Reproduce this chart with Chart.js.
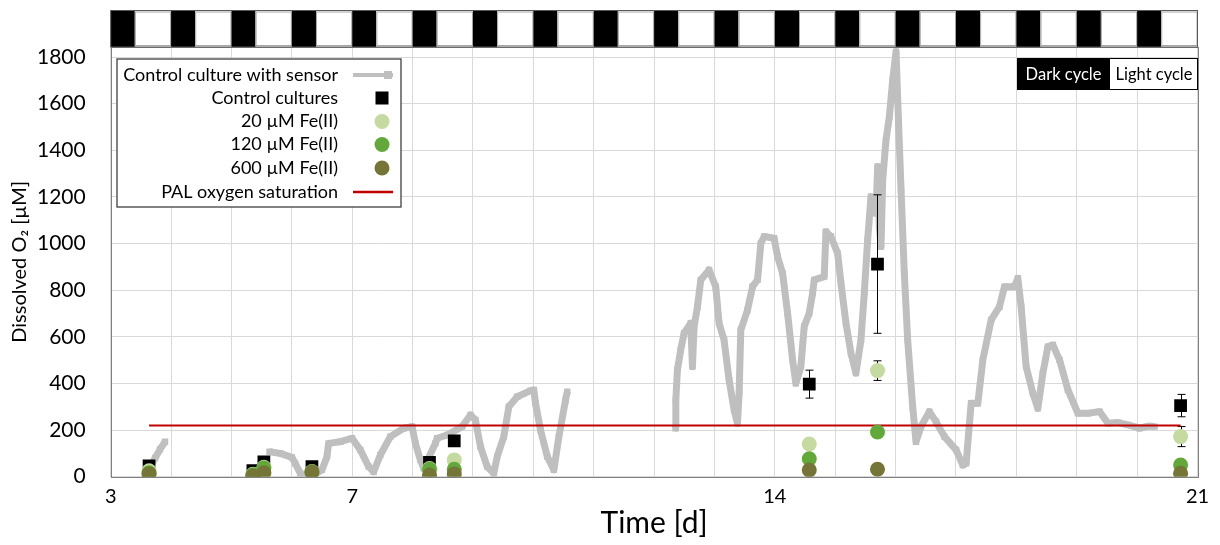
<!DOCTYPE html>
<html>
<head>
<meta charset="utf-8">
<script src="https://cdn.jsdelivr.net/npm/chart.js@4.4.1/dist/chart.umd.min.js"></script>
<style>
  html, body { margin: 0; padding: 0; background: #fff; }
</style>
</head>
<body>
<canvas id="chart" width="1220" height="545"></canvas>
<script>
// sensor trace (days / uM), null = no sensor data
var sensorDays = [3.652, 3.735, 3.818, 3.90, 4.8,
  5.630, 5.808, 6.002, 6.056, 6.139, 6.222, 6.360, 6.499, 6.582, 6.609, 6.803, 6.997, 7.134, 7.272, 7.355,
  7.466, 7.632, 7.852, 7.992, 8.046, 8.129, 8.184, 8.378, 8.406, 8.572, 8.821, 8.959, 9.041, 9.124, 9.235,
  9.345, 9.401, 9.511, 9.594, 9.733, 9.954, 10.008, 10.036, 10.119, 10.231, 10.340, 10.423, 10.534, 10.562, 11.5,
  12.355, 12.36, 12.386, 12.441, 12.496, 12.607, 12.635, 12.662, 12.718, 12.773, 12.910, 13.021, 13.076, 13.159,
  13.242, 13.325, 13.381, 13.408, 13.436, 13.547, 13.630, 13.713, 13.768, 13.823, 13.988, 14.045, 14.128, 14.211,
  14.294, 14.348, 14.431, 14.486, 14.569, 14.625, 14.652, 14.818, 14.846, 14.929, 15.040, 15.095, 15.178, 15.261,
  15.343, 15.426, 15.481, 15.537, 15.592, 15.675, 15.703, 15.730, 15.758, 15.786, 15.841, 15.896, 15.952, 16.007,
  16.035, 16.090, 16.144, 16.200, 16.283, 16.338, 16.421, 16.559, 16.670, 16.808, 17.002, 17.113, 17.168, 17.251,
  17.362, 17.445, 17.582, 17.720, 17.803, 17.968, 18.025, 18.079, 18.162, 18.273, 18.356, 18.439, 18.522, 18.605,
  18.715, 18.854, 19.020, 19.186, 19.378, 19.517, 19.683, 19.849, 20.041, 20.180, 20.290];
var sensorO2 = [40, 80, 118, 150, null,
  107, 100, 83, 57, 15, 0, 7, 29, 86, 143, 150, 165, 115, 43, 21,
  93, 172, 208, 215, 143, 72, 36, 143, 165, 179, 215, 265, 243, 129, 43,
  15, 86, 172, 300, 343, 369, 372, 315, 200, 86, 29, 172, 329, 365, null,
  208, 329, 458, 544, 615, 658, 472, 644, 729, 844, 887, 815, 658, 586,
  415, 286, 229, 358, 629, 715, 815, 844, 1001, 1030, 1023, 944, 873, 701,
  501, 401, 472, 644, 701, 787, 844, 858, 1051, 1030, 958, 830, 658, 529,
  444, 586, 787, 1015, 1201, 1130, 1330, 1072, 987, 1273, 1444, 1544, 1702, 1823,
  1616, 1230, 873, 586, 300, 150, 215, 279, 236, 172, 115, 50, 57, 315,
  315, 501, 672, 729, 815, 815, 851, 729, 472, 358, 293, 444, 558, 565,
  501, 372, 272, 272, 279, 229, 232, 222, 208, 217, 215];

// discrete samples
var sampleDays = [3.635, 5.355, 5.537, 6.333, 8.28, 8.69, 14.57, 15.70, 20.72];
var ctrl       = [47, 26, 64, 43, 62, 154, 397, 912, 305];
var ctrlErr    = [0, 0, 0, 0, 0, 0, 60, 297, 48];
var fe20       = [25, 10, 40, 22, 35, 72, 140, 455, 172];
var fe20Err    = [0, 0, 0, 0, 0, 0, 0, 42, 43];
var fe120      = [17, 8, 37, 21, 32, 32, 77, 192, 50];
var fe600      = [12, 3, 17, 20, 7, 12, 29, 32, 15];

var palLevel = 220;
var palDays = [3.635, 20.72];

var xLabels = [3, 7, 14, 21];
var yTicks = [0, 200, 400, 600, 800, 1000, 1200, 1400, 1600, 1800];
var cycleDays = [3, 4, 5, 6, 7, 8, 9, 10, 11, 12, 13, 14, 15, 16, 17, 18, 19, 20];
var darkFrac = 0.4;

var FONT = "Lato, 'DejaVu Sans', sans-serif";

function pts(xs, ys) {
  return xs.map(function (x, i) { return { x: x, y: ys[i] }; });
}

var errorBars = {
  id: 'errorBars',
  afterDatasetDraw: function (chart, args) {
    if (args.index !== 0) return;
    var ctx = chart.ctx, x = chart.scales.x, y = chart.scales.y;
    ctx.save();
    ctx.strokeStyle = '#000';
    ctx.lineWidth = 1;
    [[ctrl, ctrlErr], [fe20, fe20Err]].forEach(function (p) {
      sampleDays.forEach(function (d, i) {
        if (!p[1][i]) return;
        var px = Math.round(x.getPixelForValue(d)) + 0.5;
        var hi = y.getPixelForValue(p[0][i] + p[1][i]);
        var lo = y.getPixelForValue(p[0][i] - p[1][i]);
        ctx.beginPath();
        ctx.moveTo(px, hi); ctx.lineTo(px, lo);
        ctx.moveTo(px - 4, hi); ctx.lineTo(px + 4, hi);
        ctx.moveTo(px - 4, lo); ctx.lineTo(px + 4, lo);
        ctx.stroke();
      });
    });
    ctx.restore();
  }
};

var decorations = {
  id: 'decorations',
  afterDraw: function (chart) {
    var ctx = chart.ctx, a = chart.chartArea, x = chart.scales.x;
    ctx.save();
    // plot frame
    ctx.strokeStyle = '#808080';
    ctx.lineWidth = 1;
    ctx.strokeRect(Math.round(a.left) + 0.5, Math.round(a.top) + 0.5, Math.round(a.right - a.left), Math.round(a.bottom - a.top));

    // dark / light cycle strip
    var top = 10.5, bot = a.top;
    cycleDays.forEach(function (d) {
      var x0 = x.getPixelForValue(d), x1 = x.getPixelForValue(d + darkFrac), x2 = x.getPixelForValue(d + 1);
      ctx.fillStyle = '#000';
      ctx.fillRect(x0, top, x1 - x0, bot - top);
      ctx.fillStyle = '#fff';
      ctx.fillRect(x1, top, x2 - x1, bot - top);
      ctx.strokeStyle = '#A6A6A6';
      ctx.strokeRect(x1 + 0.5, top + 1.5, x2 - x1 - 1, bot - top - 3);
    });
    ctx.strokeStyle = '#595959';
    ctx.strokeRect(a.left, top, a.right - a.left, bot - top);

    // legend
    ctx.fillStyle = '#fff';
    ctx.fillRect(117, 59, 284, 148);
    ctx.strokeStyle = '#404040';
    ctx.lineWidth = 1.3;
    ctx.strokeRect(117, 59, 284, 148);
    ctx.font = '18px ' + FONT;
    ctx.textAlign = 'right';
    ctx.textBaseline = 'middle';
    var rows = [75, 98, 121.5, 144.5, 168, 192];
    var ds = chart.data.datasets;
    ds.forEach(function (s, i) {
      var ry = rows[i];
      ctx.fillStyle = '#000';
      ctx.fillText(s.label, 338, ry);
      var mx = 382;
      if (s.showLine) {
        ctx.strokeStyle = s.borderColor;
        ctx.lineWidth = s.borderWidth > 3 ? 4 : 2.5;
        ctx.beginPath(); ctx.moveTo(353, ry); ctx.lineTo(393, ry); ctx.stroke();
        if (s.pointRadius) {
          ctx.fillStyle = s.borderColor;
          ctx.fillRect(384, ry - 4, 8, 8);
        }
      } else if (s.pointStyle === 'rect') {
        ctx.fillStyle = s.backgroundColor;
        ctx.fillRect(mx - 6.5, ry - 6.5, 13, 13);
      } else {
        ctx.fillStyle = s.backgroundColor;
        ctx.beginPath(); ctx.arc(mx, ry, 7.5, 0, Math.PI * 2); ctx.fill();
      }
    });

    // cycle key
    ctx.font = '16.5px ' + FONT;
    ctx.fillStyle = '#000';
    ctx.fillRect(1017, 58, 93, 32);
    ctx.fillStyle = '#fff';
    ctx.fillRect(1110, 58, 88, 32);
    ctx.strokeStyle = '#000';
    ctx.lineWidth = 1;
    ctx.strokeRect(1017.5, 58.5, 180, 31);
    ctx.textAlign = 'center';
    ctx.fillStyle = '#fff';
    ctx.fillText('Dark cycle', 1063.5, 74.5);
    ctx.fillStyle = '#000';
    ctx.fillText('Light cycle', 1154, 74.5);
    ctx.restore();
  }
};

new Chart(document.getElementById('chart'), {
  type: 'scatter',
  data: {
    datasets: [
      {
        label: 'Control culture with sensor',
        data: pts(sensorDays, sensorO2),
        showLine: true,
        spanGaps: false,
        borderColor: '#BFBFBF',
        backgroundColor: '#BFBFBF',
        borderWidth: 7,
        borderJoinStyle: 'round',
        pointStyle: 'rect',
        pointRadius: 4.5,
        pointBorderWidth: 0,
        order: 6
      },
      {
        label: 'Control cultures',
        data: pts(sampleDays, ctrl),
        backgroundColor: '#000',
        borderColor: '#000',
        pointStyle: 'rect',
        pointRadius: 9,
        pointBorderWidth: 0,
        order: 4
      },
      {
        label: '20 µM Fe(II)',
        data: pts(sampleDays, fe20),
        backgroundColor: '#C5DAA0',
        borderColor: '#C5DAA0',
        pointRadius: 7.5,
        pointBorderWidth: 0,
        order: 3
      },
      {
        label: '120 µM Fe(II)',
        data: pts(sampleDays, fe120),
        backgroundColor: '#62A83A',
        borderColor: '#62A83A',
        pointRadius: 7.5,
        pointBorderWidth: 0,
        order: 2
      },
      {
        label: '600 µM Fe(II)',
        data: pts(sampleDays, fe600),
        backgroundColor: '#757537',
        borderColor: '#757537',
        pointRadius: 7.5,
        pointBorderWidth: 0,
        order: 1
      },
      {
        label: 'PAL oxygen saturation',
        data: pts(palDays, [palLevel, palLevel]),
        showLine: true,
        borderColor: '#C00000',
        backgroundColor: '#C00000',
        borderWidth: 2,
        pointRadius: 0,
        order: 5
      }
    ]
  },
  options: {
    responsive: false,
    animation: false,
    layout: { padding: { top: 47, right: 22.5, left: 0, bottom: 0 } },
    plugins: { legend: { display: false }, tooltip: { enabled: false } },
    scales: {
      x: {
        type: 'linear',
        min: 3,
        max: 21,
        afterFit: function (s) { s.height = 68.3; },
        grid: { color: '#D9D9D9', drawTicks: false },
        border: { display: false },
        ticks: {
          stepSize: 1,
          autoSkip: false,
          maxRotation: 0,
          padding: 8,
          color: '#000',
          font: { family: FONT, size: 20 },
          callback: function (v) { return xLabels.indexOf(v) >= 0 ? String(v) : ''; }
        },
        title: {
          display: true,
          text: 'Time [d]',
          color: '#000',
          font: { family: FONT, size: 30 },
          padding: { top: 0, bottom: 4 }
        }
      },
      y: {
        min: 0,
        max: 1843,
        afterFit: function (s) { s.width = 110.7; },
        afterBuildTicks: function (s) { s.ticks = yTicks.map(function (v) { return { value: v }; }); },
        grid: { color: '#D9D9D9', drawTicks: false },
        border: { display: false },
        ticks: {
          padding: 25,
          color: '#000',
          font: { family: FONT, size: 21 },
          callback: function (v) { return String(v); }
        },
        title: {
          display: true,
          text: 'Dissolved O₂ [µM]',
          color: '#000',
          font: { family: FONT, size: 20 },
          padding: { top: 8, bottom: 0 }
        }
      }
    }
  },
  plugins: [errorBars, decorations]
});
</script>
</body>
</html>
